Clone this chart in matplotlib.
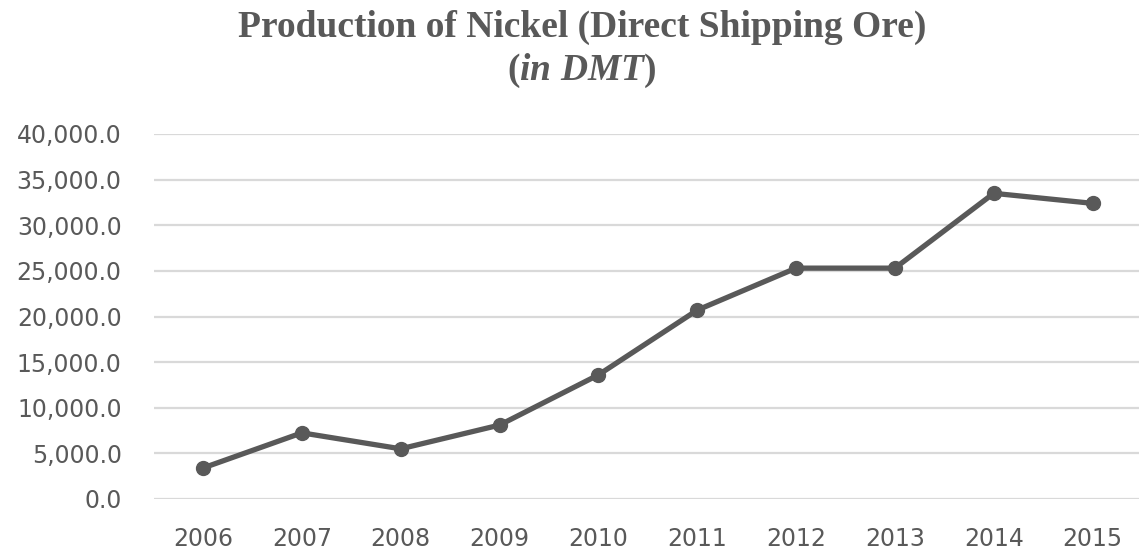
import matplotlib
matplotlib.use("Agg")
import matplotlib.pyplot as plt
from matplotlib.ticker import FuncFormatter, MultipleLocator

years = ["2006", "2007", "2008", "2009", "2010", "2011", "2012", "2013", "2014", "2015"]
production = [3400, 7250, 5500, 8100, 13600, 20700, 25300, 25300, 33500, 32400]

title_line1 = "Production of Nickel (Direct Shipping Ore)"
title_line2 = r"($\mathit{in\ DMT}$)"

plt.rcParams['mathtext.fontset'] = 'custom'
plt.rcParams['mathtext.rm'] = 'Liberation Serif:bold'
plt.rcParams['mathtext.it'] = 'Liberation Serif:italic:bold'
plt.rcParams['mathtext.bf'] = 'Liberation Serif:bold'

gray = "#595959"

fig = plt.figure(figsize=(11.39, 5.56), dpi=100)
ax = fig.add_axes([153.6 / 1139, 57 / 556, 988.4 / 1139, 365 / 556])

x = list(range(len(years)))
ax.plot(x, production, color=gray, linewidth=3.8, marker="o", markersize=10,
        solid_joinstyle="round", zorder=3)

ax.set_xlim(-0.5, len(years) - 0.5)
ax.set_ylim(0, 40000)
ax.yaxis.set_major_locator(MultipleLocator(5000))
ax.yaxis.set_major_formatter(FuncFormatter(lambda v, p: f"{v:,.1f}"))
ax.set_xticks(x)
ax.set_xticklabels(years)

ax.grid(axis="y", color="#d9d9d9", linewidth=1.6)
ax.set_axisbelow(True)
for s in ax.spines.values():
    s.set_visible(False)
ax.tick_params(axis="both", length=0, labelcolor=gray, labelsize=17)
ax.tick_params(axis="y", pad=23)
ax.tick_params(axis="x", pad=20)
for lab in ax.get_xticklabels() + ax.get_yticklabels():
    lab.set_fontfamily("DejaVu Sans")

fig.text(582 / 1139, 1 - 37 / 556, title_line1, ha="center", va="baseline",
         fontfamily="Liberation Serif", fontweight="bold", fontsize=27, color=gray)
fig.text(582 / 1139, 1 - 80 / 556, title_line2, ha="center", va="baseline",
         fontfamily="Liberation Serif", fontweight="bold", fontsize=27, color=gray)

fig.savefig("out.png", dpi=100)
